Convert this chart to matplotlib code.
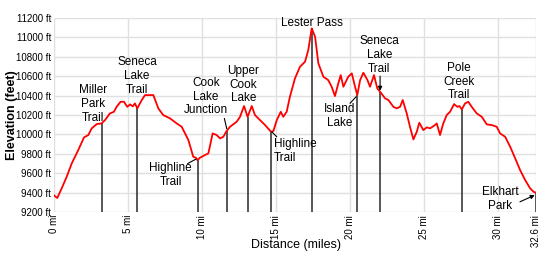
"""Elevation profile: Seneca Lake / Lester Pass loop from Elkhart Park."""

import matplotlib
matplotlib.use("Agg")
import matplotlib.pyplot as plt
import numpy as np

plt.rcParams.update({
    "font.family": ["Liberation Sans", "DejaVu Sans"],
    "font.size": 8,
})

# ── Data ──────────────────────────────────────────────────────────────────
dist_mi = [
    0.0, 0.24, 0.54, 0.88, 1.22, 1.66, 2.05, 2.34, 2.57, 2.91, 3.24, 3.47,
    3.8, 4.07, 4.25, 4.52, 4.75, 4.97, 5.16, 5.34, 5.49, 5.65, 5.95, 6.17,
    6.73, 7.07, 7.4, 7.64, 7.86, 8.31, 8.65, 9.1, 9.43, 9.61, 9.7, 9.77,
    9.88, 10.22, 10.45, 10.74, 11.01, 11.24, 11.46, 11.69, 11.91, 12.36,
    12.59, 12.86, 13.1, 13.38, 13.6, 13.94, 14.28, 14.68, 14.84, 15.07,
    15.34, 15.51, 15.74, 15.96, 16.3, 16.64, 16.98, 17.2, 17.43, 17.66,
    17.88, 18.22, 18.55, 18.78, 19.0, 19.23, 19.39, 19.57, 19.9, 20.14,
    20.36, 20.51, 20.7, 20.92, 21.2, 21.37, 21.64, 21.86, 22.05, 22.39,
    22.61, 22.95, 23.17, 23.4, 23.58, 23.85, 24.07, 24.3, 24.53, 24.7,
    24.97, 25.2, 25.43, 25.76, 25.88, 26.1, 26.32, 26.55, 26.78, 27.05,
    27.27, 27.41, 27.57, 27.79, 28.01, 28.24, 28.58, 28.92, 29.26, 29.59,
    29.93, 30.16, 30.5, 30.84, 31.18, 31.51, 31.85, 32.19, 32.42, 32.6,
]
elev_ft = [
    9375, 9345, 9444, 9564, 9702, 9839, 9970, 9994, 10063, 10107, 10114, 10148,
    10217, 10234, 10285, 10337, 10337, 10285, 10310, 10290, 10320, 10269, 10355, 10406,
    10406, 10269, 10200, 10182, 10166, 10114, 10079, 9942, 9770, 9760, 9736, 9743,
    9760, 9788, 9805, 10011, 9994, 9959, 9976, 10038, 10079, 10131,
    10182, 10293, 10182, 10293, 10200, 10148, 10097, 10028, 10035, 10148,
    10234, 10182, 10234, 10389, 10578, 10698, 10750, 10870, 11094, 11007,
    10733, 10595, 10560, 10492, 10396, 10527, 10612, 10492, 10595, 10630,
    10492, 10406, 10560, 10636, 10560, 10492, 10612, 10475, 10440, 10372,
    10355, 10285, 10269, 10285, 10355, 10217, 10079, 9949, 10028, 10121,
    10045, 10073, 10063, 10097, 10114, 9994, 10114, 10200, 10234, 10313,
    10285, 10293, 10259, 10320, 10337, 10285, 10217, 10182, 10104, 10097,
    10079, 10011, 9976, 9873, 9753, 9633, 9530, 9444, 9409, 9399,
]

# Waypoint markers: distance, label text, label position, label alignment
wp_dist = [3.24, 5.65, 9.77, 11.69, 13.1, 14.68, 17.43, 20.51, 22.05, 27.57, 32.6]
wp_label = [
    "Miller\nPark\nTrail", "Seneca\nLake\nTrail", "Highline\nTrail",
    "Cook\nLake\nJunction", "Upper\nCook\nLake", "Highline\nTrail",
    "Lester Pass", "Island\nLake", "Seneca\nLake\nTrail",
    "Pole\nCreek\nTrail", "Elkhart\nPark",
]
wp_text_x = [2.66, 5.63, 7.9, 10.27, 12.81, 14.88, 17.47, 19.3, 22.0, 27.39, 30.16]
wp_text_y = [10313, 10602, 9581, 10389, 10512, 9829, 11145, 10192, 10819, 10543, 9334]
wp_ha = ["center", "center", "center", "center", "center", "left",
         "center", "center", "center", "center", "center"]

# Leader lines (from, to) in data units
leaders = {
    2: ((9.05, 9700), (9.6, 9745), "-"),
    3: ((11.53, 10166), (11.69, 10060), "-"),
    5: ((15.07, 9976), (14.73, 10028), "-"),
    7: ((20.02, 10321), (20.43, 10389), "-"),
    8: ((22.05, 10602), (22.05, 10450), "-|>"),
    10: ((31.5, 9306), (32.5, 9375), "-|>"),
}

x_ticks = [0, 5, 10, 15, 20, 25, 30, 32.6]
x_ticklabels = ["0 mi", "5 mi", "10 mi", "15 mi", "20 mi", "25 mi", "30 mi", "32.6 mi"]
y_ticks = list(range(9200, 11201, 200))
y_ticklabels = [f"{v} ft" for v in y_ticks]

# ── Figure ───────────────────────────────────────────────────────────────
fig = plt.figure(figsize=(5.5, 2.58), dpi=100)
ax = fig.add_axes([0.0976, 0.178, 0.8774, 0.752])

ax.set_xlim(0, 32.6)
ax.set_ylim(9200, 11200)
ax.set_xticks(x_ticks)
ax.set_xticklabels(x_ticklabels, rotation=90, fontsize=7)
ax.set_yticks(y_ticks)
ax.set_yticklabels(y_ticklabels, fontsize=7)
ax.tick_params(length=0, pad=2)
ax.grid(True, color="#e0e0e0", lw=1.0, zorder=0)
for sp in ax.spines.values():
    sp.set_visible(False)

# waypoint drop lines
for d in wp_dist:
    top = np.interp(d, dist_mi, elev_ft)
    ax.plot([d, d], [9200, top], color="#3a3a3a", lw=1.2, zorder=2,
            solid_capstyle="butt")

ax.plot(dist_mi, elev_ft, color="#ff0000", lw=1.3, zorder=3)

for i, (lab, tx, ty, ha) in enumerate(zip(wp_label, wp_text_x, wp_text_y, wp_ha)):
    ax.text(tx, ty, lab, ha=ha, va="center", fontsize=8.5, linespacing=1.18,
            color="black", zorder=4)
    if i in leaders:
        p0, p1, style = leaders[i]
        ax.annotate("", xy=p1, xytext=p0,
                    arrowprops=dict(arrowstyle=style, color="black", lw=0.8,
                                    shrinkA=0, shrinkB=0,
                                    mutation_scale=6), zorder=4)

# axis titles placed as in the reference
fig.text(296 / 550, 1 - 245 / 258, "Distance (miles)", ha="center", va="center",
         fontsize=9)
fig.text(12 / 550, 1 - 115 / 258, "Elevation (feet)", ha="center", va="center",
         rotation=90, fontsize=9, fontweight="bold")

fig.savefig("out.png", dpi=100)
